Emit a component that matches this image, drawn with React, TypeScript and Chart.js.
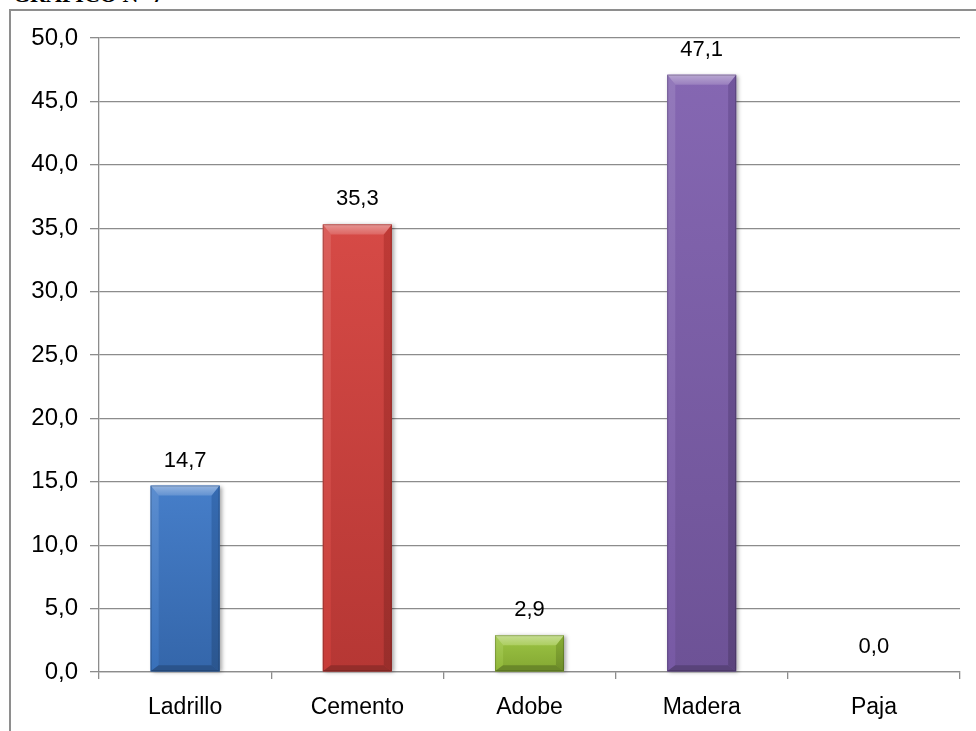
import React, { useEffect, useRef } from "react";
import { Chart, registerables } from "chart.js";

Chart.register(...registerables);

// Material categories and their share (%)
const categories: string[] = ["Ladrillo", "Cemento", "Adobe", "Madera", "Paja"];
const percentages: number[] = [14.7, 35.3, 2.9, 47.1, 0.0];
const barColors: string[] = ["#3c77c6", "#d4403c", "#98c23a", "#7f5fae", "#4bacc6"];

// Value axis range
const yMin = 0;
const yMax = 50;
const yStep = 5;

const titleText = "GRÁFICO N° 7";
const FONT = '"Liberation Sans", Arial, sans-serif';

const fmt = (v: number) => v.toFixed(1).replace(".", ",");

function hexToRgb(hex: string): [number, number, number] {
  const h = hex.replace("#", "");
  return [parseInt(h.slice(0, 2), 16), parseInt(h.slice(2, 4), 16), parseInt(h.slice(4, 6), 16)];
}
function mix(hex: string, target: number, amt: number): string {
  const [r, g, b] = hexToRgb(hex);
  const m = (c: number) => Math.round(c + (target - c) * amt);
  return `rgb(${m(r)},${m(g)},${m(b)})`;
}

// Draws each bar as a bevelled block and writes its value above it
const bevelBars = {
  id: "bevelBars",
  afterDatasetsDraw(chart: any) {
    const ctx: CanvasRenderingContext2D = chart.ctx;
    const meta = chart.getDatasetMeta(0);
    meta.data.forEach((bar: any, i: number) => {
      const { x, y, base, width } = bar.getProps(["x", "y", "base", "width"], true);
      const c = barColors[i % barColors.length];
      const h = base - y;
      const l = x - width / 2;
      const r = x + width / 2;
      const t = y;
      const b = base;
      if (h >= 1) {
        const s = Math.min(10, h / 3);
        const side = s * 0.8;
        ctx.save();
        // soft shadow
        ctx.shadowColor = "rgba(0,0,0,0.35)";
        ctx.shadowBlur = 4;
        ctx.shadowOffsetX = 2;
        ctx.shadowOffsetY = 1;
        ctx.fillStyle = c;
        ctx.fillRect(l, t, width, h);
        ctx.restore();

        ctx.save();
        // main face
        const g = ctx.createLinearGradient(0, t, 0, b);
        g.addColorStop(0, mix(c, 255, 0.05));
        g.addColorStop(1, mix(c, 0, 0.14));
        ctx.fillStyle = g;
        ctx.fillRect(l, t, width, h);

        const poly = (pts: number[][], fill: string | CanvasGradient) => {
          ctx.beginPath();
          ctx.moveTo(pts[0][0], pts[0][1]);
          for (let k = 1; k < pts.length; k++) ctx.lineTo(pts[k][0], pts[k][1]);
          ctx.closePath();
          ctx.fillStyle = fill;
          ctx.fill();
        };
        // left edge
        const lg = ctx.createLinearGradient(0, t, 0, b);
        lg.addColorStop(0, mix(c, 255, 0.16));
        lg.addColorStop(1, mix(c, 0, 0.06));
        poly([[l, t], [l + side, t + s], [l + side, b - s * 0.6], [l, b]], lg);
        // right edge
        const rg = ctx.createLinearGradient(0, t, 0, b);
        rg.addColorStop(0, mix(c, 0, 0.1));
        rg.addColorStop(1, mix(c, 0, 0.28));
        poly([[r, t], [r - side, t + s], [r - side, b - s * 0.6], [r, b]], rg);
        // bottom edge
        poly([[l, b], [l + side, b - s * 0.6], [r - side, b - s * 0.6], [r, b]], mix(c, 0, 0.3));
        // top facet
        const tg = ctx.createLinearGradient(0, t, 0, t + s);
        tg.addColorStop(0, mix(c, 255, 0.45));
        tg.addColorStop(1, mix(c, 255, 0.2));
        poly([[l, t], [r, t], [r - side, t + s], [l + side, t + s]], tg);

        ctx.strokeStyle = "rgba(0,0,0,0.2)";
        ctx.lineWidth = 1;
        ctx.strokeRect(l + 0.5, t + 0.5, width - 1, h - 1);
        ctx.restore();
      }
      // value label
      ctx.save();
      ctx.font = `22px ${FONT}`;
      ctx.fillStyle = "#000";
      ctx.textAlign = "center";
      ctx.textBaseline = "alphabetic";
      ctx.fillText(fmt(percentages[i]), x, t - 19);
      ctx.restore();
    });
  },
};

export default function App() {
  const canvasRef = useRef<HTMLCanvasElement | null>(null);

  useEffect(() => {
    if (!canvasRef.current) return;
    const gridColor = "#8c8c8c";
    const chart = new Chart(canvasRef.current, {
      type: "bar",
      data: {
        labels: categories,
        datasets: [
          {
            data: percentages,
            backgroundColor: "rgba(0,0,0,0)",
            borderWidth: 0,
            barPercentage: 0.4,
            categoryPercentage: 1,
          },
        ],
      },
      options: {
        responsive: false,
        animation: false,
        events: [],
        layout: { padding: { left: 0, top: 38, right: 16, bottom: 0 } },
        plugins: {
          legend: { display: false },
          tooltip: { enabled: false },
          title: { display: false },
        },
        scales: {
          x: {
            grid: {
              offset: true,
              drawOnChartArea: false,
              drawTicks: true,
              tickLength: 7,
              color: gridColor,
              lineWidth: 1.3,
            },
            border: { color: gridColor, width: 1.3 },
            ticks: {
              color: "#000",
              font: { family: FONT, size: 23 },
              padding: 15,
              maxRotation: 0,
            },
            afterFit: (s: any) => {
              s.height = 59;
            },
          },
          y: {
            min: yMin,
            max: yMax,
            grid: {
              color: gridColor,
              lineWidth: 1.3,
              tickLength: 9,
            },
            border: { color: gridColor, width: 1.3 },
            ticks: {
              stepSize: yStep,
              color: "#000",
              font: { family: FONT, size: 24 },
              padding: 12,
              callback: (v: any) => fmt(Number(v)),
            },
            afterFit: (s: any) => {
              s.width = 99;
            },
          },
        },
      },
      plugins: [bevelBars],
    });
    return () => chart.destroy();
  }, []);

  return (
    <div style={{ position: "fixed", inset: 0, overflow: "hidden", background: "#fff" }}>
      <div
        style={{
          position: "absolute",
          left: 13,
          top: -16,
          fontFamily: '"Liberation Serif", serif',
          fontWeight: "bold",
          fontSize: 22,
          lineHeight: "22px",
          color: "#000",
          whiteSpace: "nowrap",
        }}
      >
        {titleText}
      </div>
      <div
        style={{
          position: "absolute",
          left: 9,
          top: 9,
          width: 1100,
          height: 1000,
          border: "2px solid #8e8e8e",
          boxSizing: "border-box",
        }}
      />
      <canvas
        ref={canvasRef}
        width={976}
        height={731}
        style={{ position: "absolute", left: 0, top: 0, width: 976, height: 731 }}
      />
    </div>
  );
}
